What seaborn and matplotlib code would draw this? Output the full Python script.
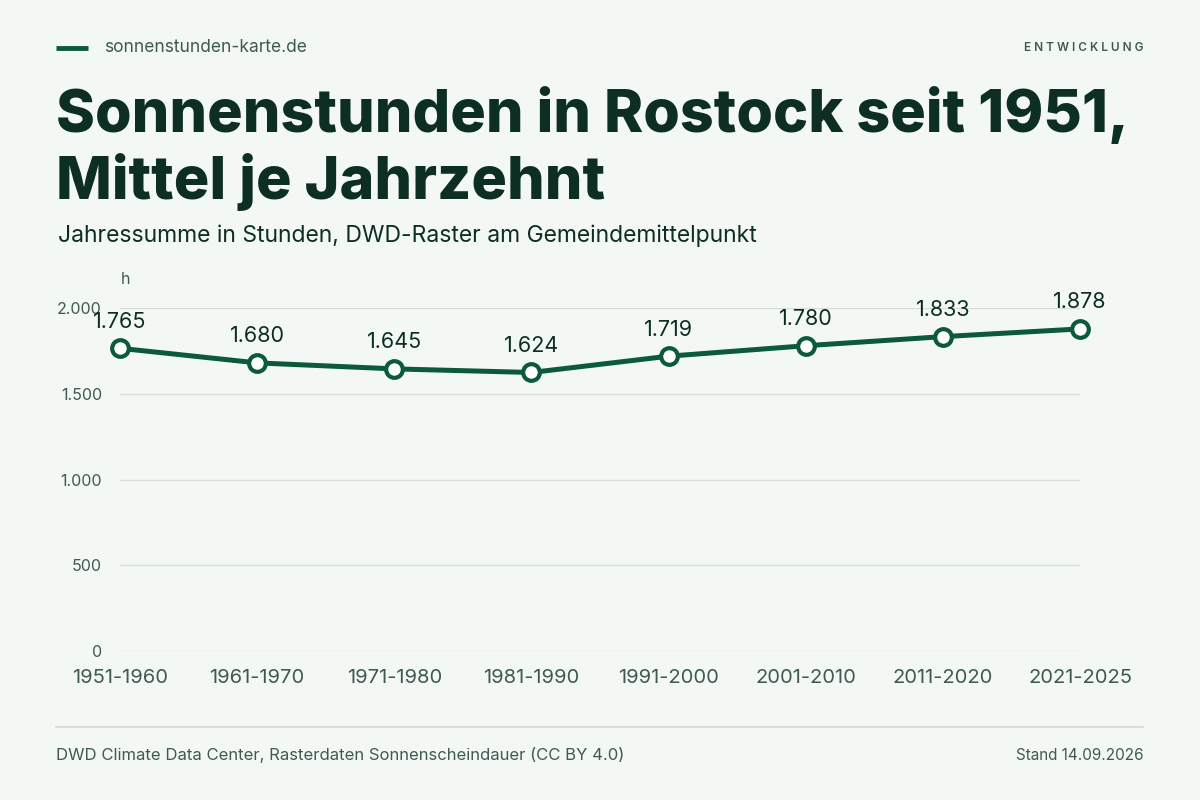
import matplotlib.pyplot as plt
import seaborn as sns
import pandas as pd

# Daten: Mittel der Jahressumme je Jahrzehnt
decades = ['1951-1960', '1961-1970', '1971-1980', '1981-1990',
           '1991-2000', '2001-2010', '2011-2020', '2021-2025']
hours = [1765, 1680, 1645, 1624, 1719, 1780, 1833, 1878]
y_ticks = [0, 500, 1000, 1500, 2000]
y_tick_labels = ['0', '500', '1.000', '1.500', '2.000']

BG = '#f3f8f5'
GREEN = '#0b5a3a'
DARK = '#0d2e22'
GREY = '#3f5a50'
RULE = '#d8dfdb'

sns.set_theme(style='white')
plt.rcParams['font.family'] = ['Inter', 'DejaVu Sans']

df = pd.DataFrame({'Jahrzehnt': decades, 'Stunden': hours})
df['pos'] = range(len(df))

fig = plt.figure(figsize=(12, 8), dpi=100, facecolor=BG)
ax = fig.add_axes([0.1, 0.18625, 0.8, 0.42875], facecolor=BG)

sns.lineplot(data=df, x='pos', y='Stunden', ax=ax, color=GREEN, linewidth=3.6,
             marker='o', markersize=12, markerfacecolor='white',
             markeredgecolor=GREEN, markeredgewidth=3, clip_on=False, zorder=3)

for x, v in zip(df['pos'], df['Stunden']):
    label = f'{v:,}'.replace(',', '.')
    ax.annotate(label, (x, v), xytext=(0, 12), textcoords='offset points',
                ha='center', va='bottom', fontsize=15.5, color=DARK)

ax.set_xlim(0, len(decades) - 1)
ax.set_ylim(0, 2000)
ax.set_xticks(df['pos'])
ax.set_xticklabels(decades, fontsize=14.5, color=GREY)
ax.set_yticks(y_ticks)
ax.set_yticklabels(y_tick_labels, fontsize=11.5, color=GREY)
ax.tick_params(axis='both', length=0)
ax.tick_params(axis='x', pad=13)
ax.tick_params(axis='y', pad=13)
ax.grid(axis='y', color=RULE, linewidth=1)
ax.set_axisbelow(True)
for s in ax.spines.values():
    s.set_visible(False)
ax.set_xlabel('')
ax.set_ylabel('')

# Kopfzeile
fig.add_artist(plt.Line2D([56 / 1200, 88 / 1200], [1 - 48 / 800] * 2,
                          color=GREEN, linewidth=3.5, solid_capstyle='butt'))
fig.text(104 / 1200, 1 - 48 / 800, 'sonnenstunden-karte.de', fontsize=12.5,
         color=GREY, va='center', ha='left')
fig.text(1143 / 1200, 1 - 48 / 800, 'E N T W I C K L U N G', fontsize=8.5,
         color=GREY, va='center', ha='right', fontweight='semibold')

fig.text(56 / 1200, 1 - 86 / 800,
         'Sonnenstunden in Rostock seit 1951,\nMittel je Jahrzehnt',
         fontsize=42.6, fontweight='heavy', color=DARK, va='top', ha='left',
         linespacing=1.2)
fig.text(58 / 1200, 1 - 236 / 800,
         'Jahressumme in Stunden, DWD-Raster am Gemeindemittelpunkt',
         fontsize=16.5, color=DARK, va='center', ha='left')
fig.text(125 / 1200, 1 - 279 / 800, 'h', fontsize=11.5, color=GREY,
         va='center', ha='center')

# Fußzeile
fig.add_artist(plt.Line2D([56 / 1200, 1143 / 1200], [1 - 727 / 800] * 2,
                          color=RULE, linewidth=1.5))
fig.text(56 / 1200, 1 - 755 / 800,
         'DWD Climate Data Center, Rasterdaten Sonnenscheindauer (CC BY 4.0)',
         fontsize=12, color=GREY, va='center', ha='left')
fig.text(1143 / 1200, 1 - 755 / 800, 'Stand 14.09.2026', fontsize=11,
         color=GREY, va='center', ha='right')

fig.savefig('out.png', dpi=100, facecolor=BG)
